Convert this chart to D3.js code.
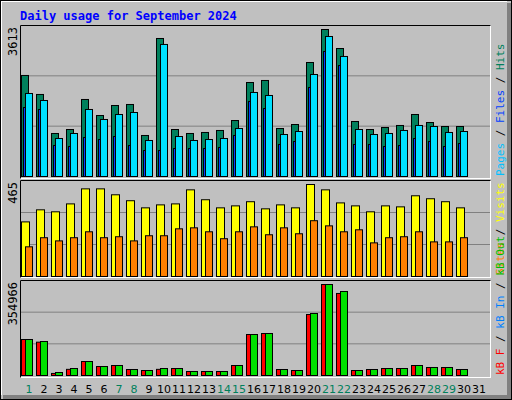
<!DOCTYPE html>
<html><head><meta charset="utf-8">
<script src="https://cdn.jsdelivr.net/npm/d3@7"></script>
<style>body{margin:0;background:#fff}</style></head>
<body><svg id="c" width="512" height="400"></svg>
<script>
const days = d3.range(1, 32);
const weekend = [1,7,8,14,15,21,22,28,29];
const hits  = [2483,2016,1057,1155,1893,1499,1745,1770,1008,3392,1155,1057,1082,1131,1376,2310,2360,1180,1278,2802,3613,3146,1352,1155,1204,1254,1524,1327,1229,1229,0];
const files = [2040,1868,934,1057,1647,1401,1524,1573,885,3245,983,885,909,934,1180,2065,1991,1032,1106,2507,3441,2950,1155,1032,1057,1131,1254,1229,1082,1106,0];
const pages = [1696,1647,762,737,959,909,983,762,639,639,688,688,688,713,1008,1844,1671,787,860,2188,3073,2728,787,787,737,762,934,860,737,811,0];
const visits = [276,337,327,367,443,443,413,383,347,362,367,438,388,347,357,378,342,362,347,465,438,372,357,327,357,352,408,393,378,347,0];
const sites  = [150,196,180,196,226,196,201,180,206,206,241,246,226,191,226,251,211,246,216,282,256,226,236,170,196,201,226,175,175,196,0];
const kbOut = [140425,132624,11702,27305,54610,35106,39007,23404,19503,27305,27305,15603,15603,15603,39007,159929,163829,23404,19503,241843,354966,327659,19503,23404,27305,27305,39007,31206,31206,23404,0];
const kbF   = [140425,130000,8000,24000,54610,35106,39007,23404,19503,24000,27305,15603,15603,15603,39007,159929,163829,23404,19503,238000,354966,320000,19503,23404,27305,27305,39007,31206,31206,23404,0];
const maxLabels = ["3613","465","354966"];

const svg = d3.select("#c");
svg.append("rect").attr("width",512).attr("height",400).attr("fill","#C0C0C0");
svg.append("rect").attr("x",0.5).attr("y",0.5).attr("width",511).attr("height",399).attr("fill","none").attr("stroke","#000");
svg.append("rect").attr("x",1).attr("y",1).attr("width",506).attr("height",1).attr("fill","#fff");
svg.append("rect").attr("x",1).attr("y",1).attr("width",1).attr("height",394).attr("fill","#fff");
svg.append("rect").attr("x",507).attr("y",3).attr("width",4).attr("height",396).attr("fill","#808080");
svg.append("rect").attr("x",3).attr("y",395).attr("width",508).attr("height",4).attr("fill","#808080");

svg.append("text").attr("x",20).attr("y",20).text("Daily usage for September 2024")
  .attr("font-family","DejaVu Sans Mono").attr("font-weight","bold").attr("font-size",12).attr("fill","#0000FF");

const x = d3.scaleBand().domain(days).range([21,486]).paddingInner(0);

function panel(top, bottom, base, maxTop, maxVal, label, series, rlabels){
  svg.append("rect").attr("x",20.5).attr("y",top+0.5).attr("width",470).attr("height",bottom-top).attr("fill","#C0C0C0").attr("stroke","#fff");
  svg.append("path").attr("d",`M20.5,${bottom+0.5}V${top+0.5}H490.5`).attr("stroke","#000").attr("fill","none");
  const y = d3.scaleLinear().domain([0,maxVal]).range([base,maxTop]);
  const gap = (base-top)/3;
  [1,2].forEach(k=>svg.append("line").attr("x1",21).attr("x2",490).attr("y1",base-gap*k+0.5).attr("y2",base-gap*k+0.5).attr("stroke","#808080"));
  svg.append("text").attr("transform",`translate(17,${top+2}) rotate(-90)`).attr("text-anchor","end")
    .attr("font-family","DejaVu Sans Mono").attr("font-size",12).attr("fill","#000").text(label);
  series.forEach(s=>{
    svg.append("g").selectAll("rect").data(days.filter((d,i)=>s.v[i]>0)).join("rect")
      .attr("x",d=>x(d)+s.off+0.5).attr("width",s.w)
      .attr("y",d=>y(s.v[d-1])+0.5).attr("height",d=>base-y(s.v[d-1]))
      .attr("fill",s.c).attr("stroke",s.stroke?"#000":"none");
  });
  const t = svg.append("text").attr("transform",`translate(504,${bottom-2}) rotate(-90)`)
    .attr("font-family","DejaVu Sans Mono").attr("font-size",11);
  rlabels.forEach((r,i)=>{
    if(i>0) t.append("tspan").attr("fill","#000").text(" / ");
    t.append("tspan").attr("fill",r[1]).text(r[0]);
  });
}

panel(25,178,176,29,3613,maxLabels[0],[
  {v:hits,off:0,w:7,c:"#00805C",stroke:1},
  {v:pages,off:2,w:3,c:"#0040FF",stroke:1},
  {v:files,off:4,w:7,c:"#00E0FF",stroke:1}
],[["Pages","#00C0FF"],["Files","#0040FF"],["Hits","#00805C"]]);

panel(180,277,276,184,465,maxLabels[1],[
  {v:visits,off:0,w:8,c:"#FFFF00",stroke:1},
  {v:sites,off:4,w:7,c:"#FF8000",stroke:1}
],[["Visits","#FF8000"]].length?[["kB"," "]].slice(1).concat([["Sites","#FF8000"],["Visits","#FFFF00"]]):[]);

panel(280,377,375,284,354966,maxLabels[2],[
  {v:kbF,off:0,w:8,c:"#FF0000",stroke:1},
  {v:kbOut,off:4,w:7,c:"#00E000",stroke:1}
],[["kB F","#FF0000"],["kB In","#0080FF"],["kB Out","#00C000"]]);

svg.append("g").selectAll("text").data(days).join("text")
  .attr("x",d=>x(d)+8).attr("y",393).attr("text-anchor","middle")
  .attr("font-family","DejaVu Sans").attr("font-size",11)
  .attr("fill",d=>weekend.includes(d)?"#00805C":"#000").text(d=>d);
</script></body></html>
